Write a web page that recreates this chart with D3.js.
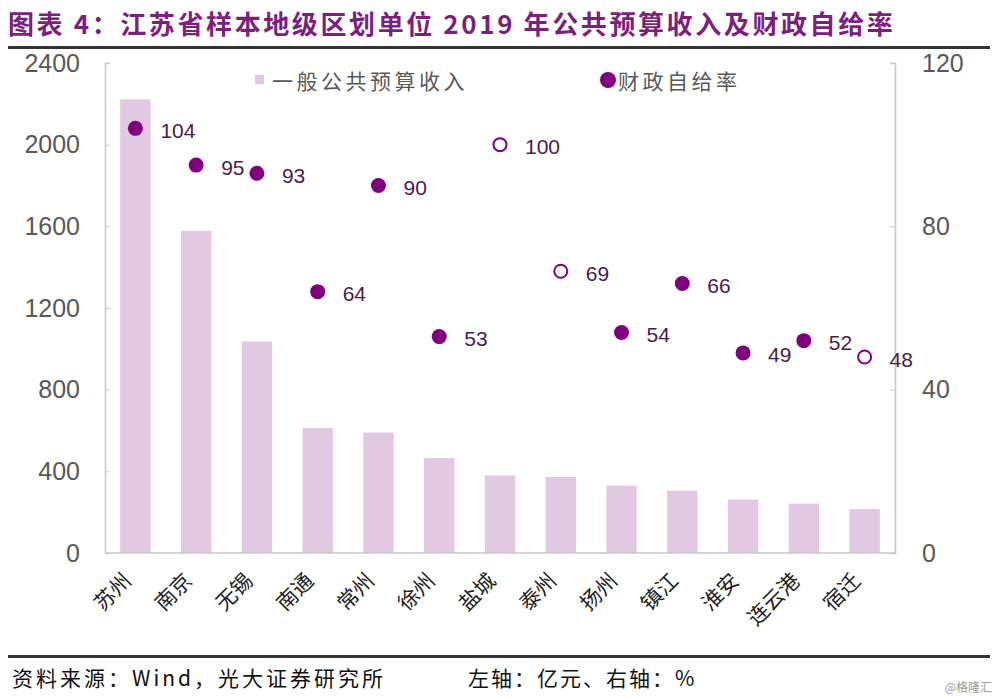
<!DOCTYPE html>
<html><head><meta charset="utf-8">
<script src="https://cdn.jsdelivr.net/npm/d3@7/dist/d3.min.js"></script>
<style>
body{margin:0;background:#fff;}
svg{display:block;}
</style></head>
<body>
<svg id="chart" width="1000" height="698"></svg>
<script>
const categories = ["苏州","南京","无锡","南通","常州","徐州","盐城","泰州","扬州","镇江","淮安","连云港","宿迁"];
const revenue = [2222, 1578, 1036, 612, 590, 465, 380, 372, 330, 305, 262, 242, 215];
const selfRatio = [104, 95, 93, 64, 90, 53, 100, 69, 54, 66, 49, 52, 48];
const hollow = [false,false,false,false,false,false,true,true,false,false,false,false,true];
const leftTicks = [0, 400, 800, 1200, 1600, 2000, 2400];
const rightTicks = [0, 40, 80, 120];

const svg = d3.select("#chart");
const cjk = "'Noto Sans CJK SC', sans-serif";
const latin = "'Liberation Sans', Arial, sans-serif";
const m = {left:105, right:895, top:63, bottom:553};

// title
svg.append("text").attr("x", 8).attr("y", 34)
  .attr("font-family", cjk).attr("font-weight", "bold").attr("font-size", 26)
  .attr("letter-spacing", 2.6)
  .attr("fill", "#7d1f7d")
  .text("图表 4：江苏省样本地级区划单位 2019 年公共预算收入及财政自给率");
svg.append("line").attr("x1", 8).attr("x2", 990).attr("y1", 47.5).attr("y2", 47.5)
  .attr("stroke", "#333").attr("stroke-width", 3);

const x = d3.scaleBand().domain(categories).range([m.left, m.right]).paddingInner(0.5).paddingOuter(0.25);
const yL = d3.scaleLinear().domain([0, 2400]).range([m.bottom, m.top]);
const yR = d3.scaleLinear().domain([0, 120]).range([m.bottom, m.top]);

// bars
svg.append("g").selectAll("rect").data(categories).join("rect")
  .attr("x", d => x(d)).attr("width", x.bandwidth())
  .attr("y", (d,i) => yL(revenue[i])).attr("height", (d,i) => m.bottom - yL(revenue[i]))
  .attr("fill", "#e1c9e1");

// axes
const axL = svg.append("g").attr("transform", `translate(${m.left},0)`)
  .call(d3.axisLeft(yL).tickValues(leftTicks).tickSize(-5).tickPadding(25).tickFormat(d3.format("d")));
const axR = svg.append("g").attr("transform", `translate(${m.right},0)`)
  .call(d3.axisRight(yR).tickValues(rightTicks).tickSize(-5).tickPadding(27).tickFormat(d3.format("d")));
[axL, axR].forEach(a => {
  a.select(".domain").attr("stroke", "#c8c8c8").attr("stroke-width", 1.5);
  a.selectAll(".tick line").attr("stroke", "#c8c8c8");
  a.selectAll(".tick text").attr("font-family", latin).attr("font-size", 25).attr("fill", "#595959");
});
svg.append("line").attr("x1", m.left).attr("x2", m.right).attr("y1", m.bottom).attr("y2", m.bottom)
  .attr("stroke", "#c8c8c8").attr("stroke-width", 1.5);

// category labels
svg.append("g").selectAll("text").data(categories).join("text")
  .attr("transform", d => `translate(${x(d) + x.bandwidth()/2 - 8},${m.bottom + 24}) rotate(-45)`)
  .attr("text-anchor", "end").attr("dy", "0.35em")
  .attr("font-family", cjk).attr("font-size", 21).attr("fill", "#222")
  .text(d => d);

// dots
const cx = d => x(d) + x.bandwidth()/2;
svg.append("g").selectAll("circle").data(categories).join("circle")
  .attr("cx", cx).attr("cy", (d,i) => yR(selfRatio[i]))
  .attr("r", (d,i) => hollow[i] ? 6.5 : 7.5)
  .attr("fill", (d,i) => hollow[i] ? "#fff" : "#800080")
  .attr("stroke", "#800080").attr("stroke-width", (d,i) => hollow[i] ? 2 : 0);
svg.append("g").selectAll("text").data(categories).join("text")
  .attr("x", d => cx(d) + 25).attr("y", (d,i) => yR(selfRatio[i]) + 2)
  .attr("dominant-baseline", "central")
  .attr("font-family", latin).attr("font-size", 21).attr("fill", "#4b1b4b")
  .text((d,i) => selfRatio[i]);

// legend
svg.append("rect").attr("x", 255).attr("y", 75).attr("width", 9).attr("height", 9).attr("fill", "#e1c9e1");
svg.append("text").attr("x", 272).attr("y", 80).attr("dominant-baseline", "central")
  .attr("font-family", cjk).attr("font-size", 21).attr("letter-spacing", 3.5).attr("fill", "#595959")
  .text("一般公共预算收入");
svg.append("circle").attr("cx", 608).attr("cy", 80).attr("r", 8).attr("fill", "#800080");
svg.append("text").attr("x", 618).attr("y", 80).attr("dominant-baseline", "central")
  .attr("font-family", cjk).attr("font-size", 21).attr("letter-spacing", 3.5).attr("fill", "#595959")
  .text("财政自给率");

// footer
svg.append("line").attr("x1", 8).attr("x2", 990).attr("y1", 656.5).attr("y2", 656.5)
  .attr("stroke", "#333").attr("stroke-width", 3);
svg.append("text").attr("x", 12).attr("y", 686)
  .attr("font-family", cjk).attr("font-size", 21).attr("letter-spacing", 3).attr("fill", "#111")
  .text("资料来源：Wind，光大证券研究所");
svg.append("text").attr("x", 468).attr("y", 686)
  .attr("font-family", cjk).attr("font-size", 21).attr("letter-spacing", 2).attr("fill", "#111")
  .text("左轴：亿元、右轴：%");
svg.append("text").attr("x", 992).attr("y", 692).attr("text-anchor", "end")
  .attr("font-family", cjk).attr("font-size", 12).attr("fill", "#999")
  .text("@格隆汇");
</script>
</body></html>
